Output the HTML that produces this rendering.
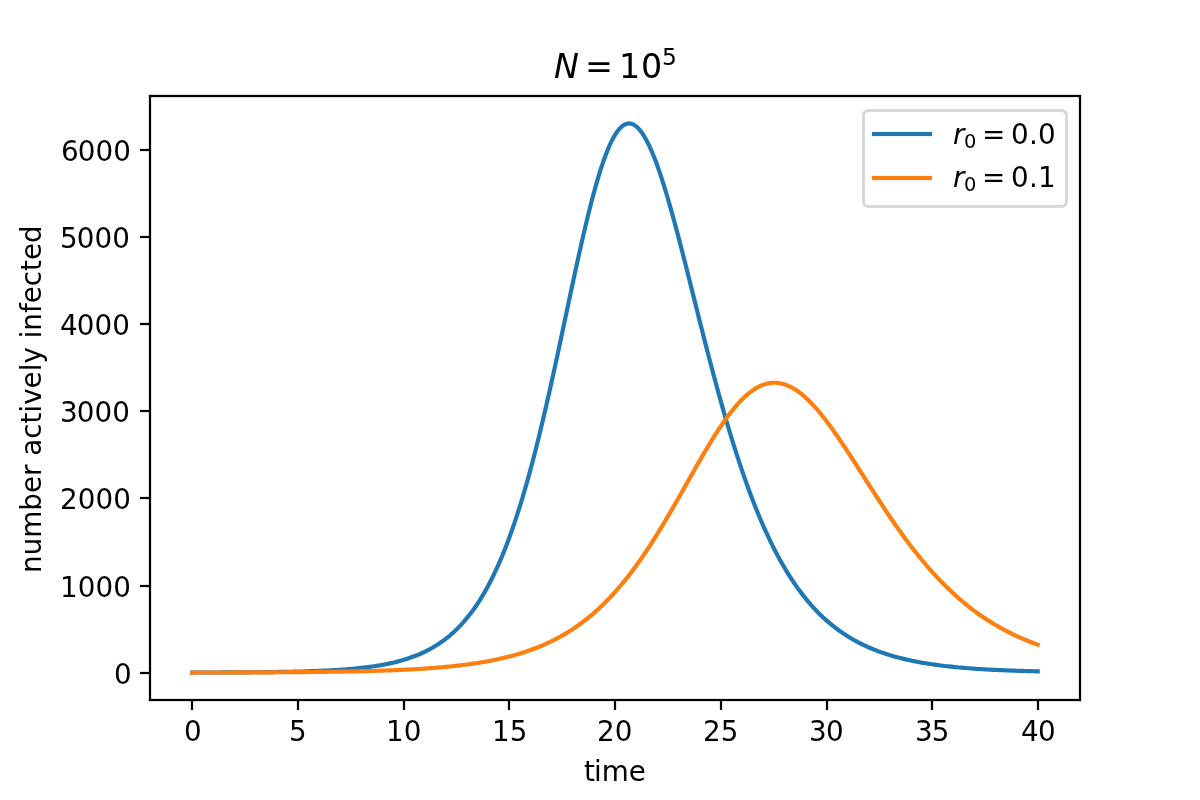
<!DOCTYPE html>
<html lang="en">
<head>
<meta charset="utf-8">
<title>N = 10^5 — number actively infected vs time</title>
<style>
  html, body { margin: 0; padding: 0; background: #ffffff; }
  body { width: 1200px; height: 800px; overflow: hidden; }
  svg { display: block; }
  svg text { font-family: "DejaVu Sans", "Liberation Sans", sans-serif; fill: #000000; }
  .t10 { font-size: 27.78px; }
  .t12 { font-size: 33.33px; }
  .it { font-style: oblique; }
  .sub { font-size: 19.44px; }
  .sup { font-size: 23.33px; }
  .tick { fill: #000000; }
  .curve { fill: none; stroke-width: 4.1667; stroke-linejoin: round; stroke-linecap: square; }
</style>
</head>
<body>
<svg width="1200" height="800" viewBox="0 0 1200 800">
<rect x="0" y="0" width="1200" height="800" fill="#ffffff"/>
<g class="tick">
<rect x="190.89" y="700" width="2.22" height="10"/>
<rect x="296.89" y="700" width="2.22" height="10"/>
<rect x="402.89" y="700" width="2.22" height="10"/>
<rect x="507.89" y="700" width="2.22" height="10"/>
<rect x="613.89" y="700" width="2.22" height="10"/>
<rect x="719.89" y="700" width="2.22" height="10"/>
<rect x="825.89" y="700" width="2.22" height="10"/>
<rect x="930.89" y="700" width="2.22" height="10"/>
<rect x="1036.89" y="700" width="2.22" height="10"/>
<rect x="140" y="671.89" width="10" height="2.22"/>
<rect x="140" y="584.89" width="10" height="2.22"/>
<rect x="140" y="496.89" width="10" height="2.22"/>
<rect x="140" y="409.89" width="10" height="2.22"/>
<rect x="140" y="322.89" width="10" height="2.22"/>
<rect x="140" y="235.89" width="10" height="2.22"/>
<rect x="140" y="148.89" width="10" height="2.22"/>
</g>
<g class="t10">
<text x="183.898" y="741.00">0</text>
<text x="289.080" y="741.00">5</text>
<text x="385.886 403.636" y="741.00">10</text>
<text x="492.068 509.818" y="741.00">15</text>
<text x="597.000 614.750" y="741.00">20</text>
<text x="702.932 720.682" y="741.00">25</text>
<text x="809.114 826.114" y="741.00">30</text>
<text x="915.045 931.795" y="741.00">35</text>
<text x="1020.977 1037.977" y="741.00">40</text>
</g>
<g class="t10">
<text x="114.060" y="684">0</text>
<text x="60.060 77.810 95.560 113.310" y="597">1000</text>
<text x="60.060 77.810 95.560 113.310" y="509">2000</text>
<text x="60.060 76.810 94.560 112.310" y="422">3000</text>
<text x="60.060 76.810 94.560 112.310" y="335">4000</text>
<text x="60.060 76.810 94.560 112.310" y="248">5000</text>
<text x="61.060 77.810 95.560 113.310" y="161">6000</text>
</g>
<text class="t10" x="584.120 594.012 601.730 628.790" y="781.00">time</text>
<text class="t10" text-anchor="middle" transform="translate(41.00 399.12) rotate(-90)">number actively infected</text>
<clipPath id="axclip"><rect x="150" y="96" width="930" height="604"/></clipPath>
<g clip-path="url(#axclip)">
<polyline class="curve" stroke="#1f77b4" points="192.273,672.545 194.386,672.541 196.500,672.536 198.614,672.531 200.727,672.526 202.841,672.521 204.955,672.515 207.068,672.509 209.182,672.503 211.295,672.496 213.409,672.489 215.523,672.482 217.636,672.474 219.750,672.466 221.864,672.457 223.977,672.448 226.091,672.439 228.205,672.429 230.318,672.418 232.432,672.407 234.545,672.396 236.659,672.384 238.773,672.371 240.886,672.357 243.000,672.343 245.114,672.329 247.227,672.313 249.341,672.297 251.455,672.279 253.568,672.261 255.682,672.242 257.795,672.222 259.909,672.201 262.023,672.179 264.136,672.156 266.250,672.131 268.364,672.106 270.477,672.079 272.591,672.050 274.705,672.020 276.818,671.989 278.932,671.956 281.045,671.921 283.159,671.885 285.273,671.847 287.386,671.806 289.500,671.764 291.614,671.720 293.727,671.673 295.841,671.624 297.955,671.572 300.068,671.518 302.182,671.461 304.295,671.401 306.409,671.337 308.523,671.271 310.636,671.201 312.750,671.128 314.864,671.051 316.977,670.970 319.091,670.885 321.205,670.796 323.318,670.702 325.432,670.603 327.545,670.499 329.659,670.390 331.773,670.275 333.886,670.155 336.000,670.028 338.114,669.895 340.227,669.755 342.341,669.608 344.455,669.453 346.568,669.291 348.682,669.120 350.795,668.940 352.909,668.752 355.023,668.554 357.136,668.346 359.250,668.127 361.364,667.897 363.477,667.655 365.591,667.402 367.705,667.135 369.818,666.855 371.932,666.560 374.045,666.251 376.159,665.926 378.273,665.585 380.386,665.226 382.500,664.849 384.614,664.454 386.727,664.038 388.841,663.601 390.955,663.143 393.068,662.661 395.182,662.156 397.295,661.625 399.409,661.067 401.523,660.481 403.636,659.867 405.750,659.221 407.864,658.543 409.977,657.832 412.091,657.086 414.205,656.302 416.318,655.479 418.432,654.616 420.545,653.711 422.659,652.761 424.773,651.764 426.886,650.718 429.000,649.621 431.114,648.471 433.227,647.265 435.341,646.001 437.455,644.675 439.568,643.285 441.682,641.829 443.795,640.303 445.909,638.704 448.023,637.029 450.136,635.275 452.250,633.438 454.364,631.515 456.477,629.502 458.591,627.395 460.705,625.191 462.818,622.886 464.932,620.475 467.045,617.955 469.159,615.320 471.273,612.568 473.386,609.693 475.500,606.691 477.614,603.557 479.727,600.287 481.841,596.875 483.955,593.318 486.068,589.611 488.182,585.748 490.295,581.725 492.409,577.538 494.523,573.181 496.636,568.651 498.750,563.942 500.864,559.051 502.977,553.972 505.091,548.704 507.205,543.241 509.318,537.580 511.432,531.718 513.545,525.652 515.659,519.381 517.773,512.901 519.886,506.212 522.000,499.314 524.114,492.204 526.227,484.885 528.341,477.357 530.455,469.622 532.568,461.683 534.682,453.543 536.795,445.207 538.909,436.681 541.023,427.971 543.136,419.084 545.250,410.030 547.364,400.819 549.477,391.461 551.591,381.968 553.705,372.355 555.818,362.636 557.932,352.826 560.045,342.944 562.159,333.007 564.273,323.035 566.386,313.049 568.500,303.070 570.614,293.120 572.727,283.224 574.841,273.405 576.955,263.689 579.068,254.100 581.182,244.665 583.295,235.410 585.409,226.362 587.523,217.546 589.636,208.988 591.750,200.715 593.864,192.751 595.977,185.122 598.091,177.850 600.205,170.958 602.318,164.468 604.432,158.399 606.545,152.771 608.659,147.600 610.773,142.902 612.886,138.689 615.000,134.975 617.114,131.767 619.227,129.075 621.341,126.902 623.455,125.254 625.568,124.130 627.682,123.532 629.795,123.455 631.909,123.895 634.023,124.846 636.136,126.299 638.250,128.245 640.364,130.672 642.477,133.566 644.591,136.913 646.705,140.697 648.818,144.902 650.932,149.510 653.045,154.501 655.159,159.856 657.273,165.555 659.386,171.578 661.500,177.904 663.614,184.511 665.727,191.379 667.841,198.486 669.955,205.811 672.068,213.333 674.182,221.033 676.295,228.888 678.409,236.881 680.523,244.991 682.636,253.200 684.750,261.490 686.864,269.844 688.977,278.245 691.091,286.676 693.205,295.124 695.318,303.572 697.432,312.009 699.545,320.420 701.659,328.793 703.773,337.118 705.886,345.384 708.000,353.581 710.114,361.699 712.227,369.731 714.341,377.669 716.455,385.506 718.568,393.235 720.682,400.851 722.795,408.348 724.909,415.723 727.023,422.971 729.136,430.089 731.250,437.074 733.364,443.923 735.477,450.634 737.591,457.206 739.705,463.638 741.818,469.928 743.932,476.077 746.045,482.083 748.159,487.948 750.273,493.672 752.386,499.254 754.500,504.697 756.614,510.001 758.727,515.167 760.841,520.197 762.955,525.092 765.068,529.855 767.182,534.486 769.295,538.989 771.409,543.365 773.523,547.616 775.636,551.744 777.750,555.753 779.864,559.643 781.977,563.418 784.091,567.080 786.205,570.632 788.318,574.075 790.432,577.413 792.545,580.647 794.659,583.781 796.773,586.817 798.886,589.757 801.000,592.603 803.114,595.359 805.227,598.026 807.341,600.608 809.455,603.105 811.568,605.521 813.682,607.858 815.795,610.118 817.909,612.304 820.023,614.417 822.136,616.459 824.250,618.434 826.364,620.342 828.477,622.185 830.591,623.967 832.705,625.688 834.818,627.350 836.932,628.956 839.045,630.507 841.159,632.005 843.273,633.451 845.386,634.847 847.500,636.195 849.614,637.497 851.727,638.753 853.841,639.966 855.955,641.136 858.068,642.265 860.182,643.355 862.295,644.407 864.409,645.421 866.523,646.400 868.636,647.345 870.750,648.256 872.864,649.135 874.977,649.983 877.091,650.801 879.205,651.590 881.318,652.350 883.432,653.084 885.545,653.791 887.659,654.474 889.773,655.132 891.886,655.766 894.000,656.378 896.114,656.968 898.227,657.536 900.341,658.085 902.455,658.613 904.568,659.123 906.682,659.614 908.795,660.087 910.909,660.544 913.023,660.984 915.136,661.408 917.250,661.817 919.364,662.211 921.477,662.591 923.591,662.957 925.705,663.310 927.818,663.650 929.932,663.978 932.045,664.293 934.159,664.598 936.273,664.891 938.386,665.174 940.500,665.446 942.614,665.709 944.727,665.962 946.841,666.206 948.955,666.441 951.068,666.667 953.182,666.885 955.295,667.095 957.409,667.298 959.523,667.493 961.636,667.681 963.750,667.862 965.864,668.037 967.977,668.205 970.091,668.367 972.205,668.524 974.318,668.674 976.432,668.819 978.545,668.959 980.659,669.093 982.773,669.223 984.886,669.348 987.000,669.468 989.114,669.584 991.227,669.696 993.341,669.804 995.455,669.907 997.568,670.007 999.682,670.103 1001.795,670.196 1003.909,670.285 1006.023,670.371 1008.136,670.454 1010.250,670.534 1012.364,670.611 1014.477,670.685 1016.591,670.757 1018.705,670.826 1020.818,670.892 1022.932,670.956 1025.045,671.017 1027.159,671.077 1029.273,671.134 1031.386,671.189 1033.500,671.242 1035.614,671.293 1037.727,671.342"/>
<polyline class="curve" stroke="#ff7f0e" points="192.273,672.545 194.386,672.542 196.500,672.539 198.614,672.536 200.727,672.532 202.841,672.529 204.955,672.525 207.068,672.521 209.182,672.517 211.295,672.513 213.409,672.509 215.523,672.505 217.636,672.500 219.750,672.495 221.864,672.490 223.977,672.485 226.091,672.480 228.205,672.475 230.318,672.469 232.432,672.463 234.545,672.457 236.659,672.451 238.773,672.444 240.886,672.438 243.000,672.431 245.114,672.424 247.227,672.416 249.341,672.408 251.455,672.400 253.568,672.392 255.682,672.384 257.795,672.375 259.909,672.366 262.023,672.356 264.136,672.346 266.250,672.336 268.364,672.325 270.477,672.315 272.591,672.303 274.705,672.292 276.818,672.279 278.932,672.267 281.045,672.254 283.159,672.240 285.273,672.226 287.386,672.212 289.500,672.197 291.614,672.181 293.727,672.165 295.841,672.149 297.955,672.131 300.068,672.114 302.182,672.095 304.295,672.076 306.409,672.056 308.523,672.036 310.636,672.014 312.750,671.992 314.864,671.970 316.977,671.946 319.091,671.922 321.205,671.896 323.318,671.870 325.432,671.843 327.545,671.815 329.659,671.786 331.773,671.756 333.886,671.725 336.000,671.692 338.114,671.659 340.227,671.624 342.341,671.588 344.455,671.551 346.568,671.513 348.682,671.473 350.795,671.432 352.909,671.389 355.023,671.345 357.136,671.299 359.250,671.252 361.364,671.203 363.477,671.152 365.591,671.099 367.705,671.045 369.818,670.989 371.932,670.930 374.045,670.870 376.159,670.807 378.273,670.742 380.386,670.675 382.500,670.606 384.614,670.534 386.727,670.460 388.841,670.382 390.955,670.303 393.068,670.220 395.182,670.135 397.295,670.046 399.409,669.954 401.523,669.859 403.636,669.761 405.750,669.659 407.864,669.554 409.977,669.445 412.091,669.332 414.205,669.215 416.318,669.095 418.432,668.969 420.545,668.840 422.659,668.706 424.773,668.567 426.886,668.423 429.000,668.275 431.114,668.121 433.227,667.961 435.341,667.796 437.455,667.626 439.568,667.449 441.682,667.266 443.795,667.077 445.909,666.881 448.023,666.679 450.136,666.469 452.250,666.252 454.364,666.028 456.477,665.796 458.591,665.556 460.705,665.307 462.818,665.050 464.932,664.784 467.045,664.508 469.159,664.224 471.273,663.929 473.386,663.624 475.500,663.309 477.614,662.983 479.727,662.646 481.841,662.297 483.955,661.936 486.068,661.563 488.182,661.178 490.295,660.779 492.409,660.367 494.523,659.940 496.636,659.499 498.750,659.044 500.864,658.573 502.977,658.086 505.091,657.583 507.205,657.062 509.318,656.525 511.432,655.969 513.545,655.395 515.659,654.802 517.773,654.190 519.886,653.557 522.000,652.903 524.114,652.228 526.227,651.530 528.341,650.810 530.455,650.067 532.568,649.299 534.682,648.506 536.795,647.688 538.909,646.844 541.023,645.973 543.136,645.074 545.250,644.146 547.364,643.189 549.477,642.202 551.591,641.184 553.705,640.135 555.818,639.052 557.932,637.937 560.045,636.787 562.159,635.602 564.273,634.381 566.386,633.124 568.500,631.829 570.614,630.495 572.727,629.122 574.841,627.708 576.955,626.254 579.068,624.757 581.182,623.217 583.295,621.634 585.409,620.005 587.523,618.332 589.636,616.612 591.750,614.844 593.864,613.029 595.977,611.165 598.091,609.252 600.205,607.288 602.318,605.273 604.432,603.207 606.545,601.088 608.659,598.917 610.773,596.692 612.886,594.413 615.000,592.080 617.114,589.693 619.227,587.250 621.341,584.752 623.455,582.198 625.568,579.589 627.682,576.924 629.795,574.204 631.909,571.428 634.023,568.597 636.136,565.712 638.250,562.772 640.364,559.779 642.477,556.732 644.591,553.633 646.705,550.483 648.818,547.283 650.932,544.034 653.045,540.737 655.159,537.394 657.273,534.007 659.386,530.577 661.500,527.107 663.614,523.598 665.727,520.052 667.841,516.474 669.955,512.864 672.068,509.225 674.182,505.562 676.295,501.876 678.409,498.171 680.523,494.451 682.636,490.719 684.750,486.979 686.864,483.235 688.977,479.490 691.091,475.750 693.205,472.018 695.318,468.300 697.432,464.598 699.545,460.919 701.659,457.267 703.773,453.647 705.886,450.064 708.000,446.523 710.114,443.029 712.227,439.586 714.341,436.201 716.455,432.879 718.568,429.623 720.682,426.440 722.795,423.335 724.909,420.312 727.023,417.376 729.136,414.532 731.250,411.786 733.364,409.140 735.477,406.601 737.591,404.171 739.705,401.855 741.818,399.658 743.932,397.581 746.045,395.630 748.159,393.807 750.273,392.115 752.386,390.557 754.500,389.136 756.614,387.853 758.727,386.710 760.841,385.709 762.955,384.852 765.068,384.138 767.182,383.570 769.295,383.147 771.409,382.870 773.523,382.738 775.636,382.751 777.750,382.909 779.864,383.209 781.977,383.651 784.091,384.234 786.205,384.955 788.318,385.812 790.432,386.804 792.545,387.927 794.659,389.178 796.773,390.556 798.886,392.056 801.000,393.675 803.114,395.410 805.227,397.258 807.341,399.213 809.455,401.274 811.568,403.434 813.682,405.691 815.795,408.040 817.909,410.478 820.023,412.998 822.136,415.598 824.250,418.274 826.364,421.019 828.477,423.831 830.591,426.705 832.705,429.637 834.818,432.621 836.932,435.655 839.045,438.733 841.159,441.852 843.273,445.008 845.386,448.196 847.500,451.413 849.614,454.654 851.727,457.917 853.841,461.197 855.955,464.491 858.068,467.796 860.182,471.107 862.295,474.423 864.409,477.739 866.523,481.053 868.636,484.362 870.750,487.664 872.864,490.955 874.977,494.233 877.091,497.496 879.205,500.742 881.318,503.967 883.432,507.172 885.545,510.352 887.659,513.508 889.773,516.636 891.886,519.736 894.000,522.805 896.114,525.843 898.227,528.849 900.341,531.820 902.455,534.756 904.568,537.657 906.682,540.520 908.795,543.346 910.909,546.134 913.023,548.882 915.136,551.591 917.250,554.260 919.364,556.888 921.477,559.475 923.591,562.021 925.705,564.526 927.818,566.989 929.932,569.411 932.045,571.791 934.159,574.129 936.273,576.425 938.386,578.679 940.500,580.892 942.614,583.064 944.727,585.195 946.841,587.284 948.955,589.333 951.068,591.342 953.182,593.310 955.295,595.239 957.409,597.129 959.523,598.979 961.636,600.791 963.750,602.565 965.864,604.302 967.977,606.001 970.091,607.663 972.205,609.290 974.318,610.880 976.432,612.436 978.545,613.957 980.659,615.443 982.773,616.896 984.886,618.316 987.000,619.704 989.114,621.060 991.227,622.384 993.341,623.677 995.455,624.940 997.568,626.173 999.682,627.377 1001.795,628.552 1003.909,629.700 1006.023,630.819 1008.136,631.912 1010.250,632.978 1012.364,634.018 1014.477,635.033 1016.591,636.022 1018.705,636.988 1020.818,637.929 1022.932,638.847 1025.045,639.742 1027.159,640.615 1029.273,641.466 1031.386,642.295 1033.500,643.104 1035.614,643.892 1037.727,644.660"/>
</g>
<g fill="#000000">
<rect x="148.889" y="94.889" width="2.222" height="606.222"/>
<rect x="1078.889" y="94.889" width="2.222" height="606.222"/>
<rect x="148.889" y="698.889" width="932.222" height="2.222"/>
<rect x="148.889" y="94.889" width="932.222" height="2.222"/>
</g>
<text class="t12" x="553.67" y="78.00"><tspan class="it" x="553.92">N</tspan><tspan x="585.10">=</tspan><tspan x="619.02">1</tspan><tspan x="640.98">0</tspan><tspan class="sup" x="662.01" dy="-13.00">5</tspan></text>
<g id="legend-frame">
<path d="M 869.056 206.500 L 1060.944 206.500 Q 1066.500 206.500 1066.500 200.944 L 1066.500 116.056 Q 1066.500 110.500 1060.944 110.500 L 869.056 110.500 Q 863.500 110.500 863.500 116.056 L 863.500 200.944 Q 863.500 206.500 869.056 206.500 Z" fill="#ffffff"/>
<g fill="#d6d6d6">
<rect x="869.056" y="109.111" width="191.888" height="2.7778"/>
<rect x="869.056" y="205.111" width="191.888" height="2.7778"/>
<rect x="862.111" y="116.056" width="2.7778" height="84.888"/>
<rect x="1065.111" y="116.056" width="2.7778" height="84.888"/>
</g>
<g fill="none" stroke="#d6d6d6" stroke-width="2.7778" stroke-linecap="butt">
<path d="M 863.500 116.056 Q 863.500 110.500 869.056 110.500"/>
<path d="M 1060.944 110.500 Q 1066.500 110.500 1066.500 116.056"/>
<path d="M 1066.500 200.944 Q 1066.500 206.500 1060.944 206.500"/>
<path d="M 869.056 206.500 Q 863.500 206.500 863.500 200.944"/>
</g>
</g>
<rect x="871.917" y="131.917" width="60.167" height="4.1667" fill="#1f77b4"/>
<rect x="871.917" y="175.917" width="60.167" height="4.1667" fill="#ff7f0e"/>
<text class="t10" x="952.52" y="144.00"><tspan class="it" x="953.02">r</tspan><tspan class="sub" x="963.94" dy="4.00">0</tspan><tspan x="981.98" dy="-4.00">=</tspan><tspan x="1010.92">0</tspan><tspan x="1029.09">.</tspan><tspan x="1037.92">0</tspan></text>
<text class="t10" x="952.52" y="187.00"><tspan class="it" x="953.02">r</tspan><tspan class="sub" x="963.94" dy="4.00">0</tspan><tspan x="981.98" dy="-4.00">=</tspan><tspan x="1010.92">0</tspan><tspan x="1029.09">.</tspan><tspan x="1037.92">1</tspan></text>
</svg>
</body>
</html>
